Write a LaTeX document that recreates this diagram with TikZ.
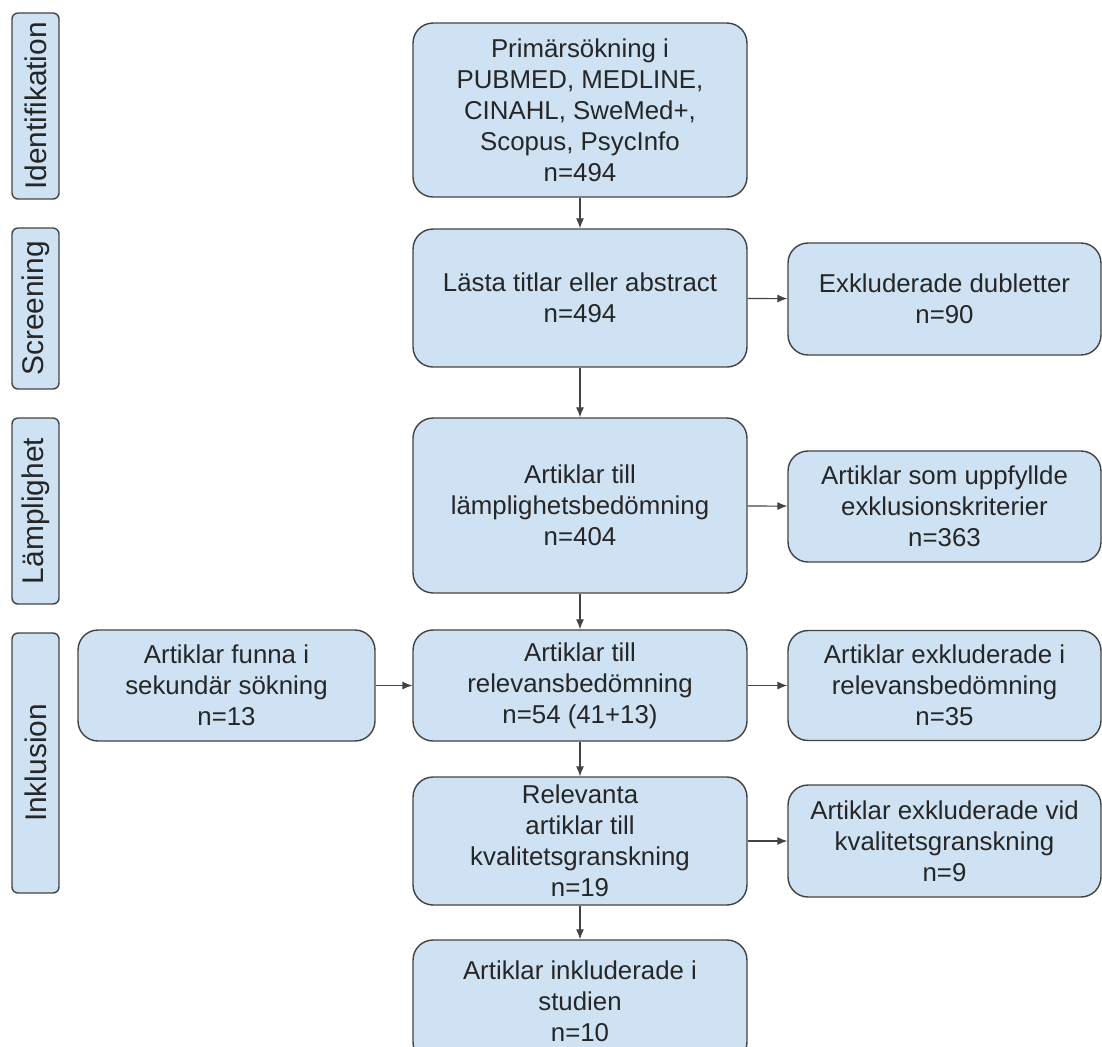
\documentclass[tikz,border=0pt]{standalone}
\usepackage{fontspec}
\setmainfont{Liberation Sans}
\usetikzlibrary{arrows.meta}
\definecolor{boxblue}{HTML}{CFE2F3}
\definecolor{boxline}{HTML}{434343}
\definecolor{txtgray}{HTML}{262626}

\begin{document}
\begin{tikzpicture}[x=0.02cm, y=-0.02cm,
	box/.style={draw=boxline, line width=0.8pt, fill=boxblue, rounded corners=0.4cm, align=center, text=txtgray, inner sep=2pt, font=\fontsize{14.7}{17.6}\selectfont},
	phase/.style={draw=boxline, line width=0.8pt, fill=boxblue, rounded corners=0.12cm, rotate=90, minimum height=0.94cm, text=txtgray, inner sep=2pt, font=\fontsize{17}{20}\selectfont},
	flow/.style={draw=boxline, line width=0.6pt, -{Latex[length=2mm,width=1.6mm]}}]
			%%%%% START %%%%%
			\useasboundingbox (0, 0) rectangle (1102, 1046);
			
			% phases
			\node[phase, minimum width=3.72cm] (ident) at (35.5, 106) {Identifikation};
			\node[phase, minimum width=3.22cm] (screen) at (35.5, 308.5) {Screening};
			\node[phase, minimum width=3.72cm] (lampl) at (35.5, 511) {Lämplighet};
			\node[phase, minimum width=5.2cm] (inkl) at (35.5, 763) {Inklusion};
			
			% main column
			\node[box, minimum width=6.68cm, minimum height=3.48cm] (prim) at (580, 110) {Primärsökning i\\PUBMED, MEDLINE,\\CINAHL, SweMed+,\\Scopus, PsycInfo\\n=494};
			\node[box, minimum width=6.68cm, minimum height=2.76cm] (lasta) at (580, 298) {Lästa titlar eller abstract\\n=494};
			\node[box, minimum width=6.68cm, minimum height=3.5cm] (lamp) at (580, 505.5) {Artiklar till\\lämplighetsbedömning\\n=404};
			\node[box, minimum width=6.68cm, minimum height=2.22cm] (relev) at (580, 685.5) {Artiklar till\\relevansbedömning\\n=54 (41+13)};
			\node[box, minimum width=6.68cm, minimum height=2.56cm] (kval) at (580, 841) {Relevanta\\artiklar till\\kvalitetsgranskning\\n=19};
			\node[box, minimum width=6.68cm, minimum height=2.44cm] (stud) at (580, 1001) {Artiklar inkluderade i\\studien\\n=10};
			
			% right column
			\node[box, minimum width=6.26cm, minimum height=2.24cm] (dubl) at (944.5, 299) {Exkluderade dubletter\\n=90};
			\node[box, minimum width=6.26cm, minimum height=2.22cm] (exkl) at (944.5, 506.5) {Artiklar som uppfyllde\\exklusionskriterier\\n=363};
			\node[box, minimum width=6.26cm, minimum height=2.2cm] (exrel) at (944.5, 685.5) {Artiklar exkluderade i\\relevansbedömning\\n=35};
			\node[box, minimum width=6.26cm, minimum height=2.24cm] (exkval) at (944.5, 841) {Artiklar exkluderade vid\\kvalitetsgranskning\\n=9};
			
			% left
			\node[box, minimum width=5.94cm, minimum height=2.22cm] (sek) at (226.5, 685.5) {Artiklar funna i\\sekundär sökning\\n=13};
			
			% arrows
			\draw[flow] (prim) -- (lasta);
			\draw[flow] (lasta) -- (lamp);
			\draw[flow] (lamp) -- (relev);
			\draw[flow] (relev) -- (kval);
			\draw[flow] (kval) -- (stud);
			
			\draw[flow] (lasta) -- (dubl);
			\draw[flow] (lamp) -- (exkl);
			\draw[flow] (relev) -- (exrel);
			\draw[flow] (kval) -- (exkval);
			\draw[flow] (sek) -- (relev);
			
			%%%%% END %%%%%
		\end{tikzpicture}
\end{document}
